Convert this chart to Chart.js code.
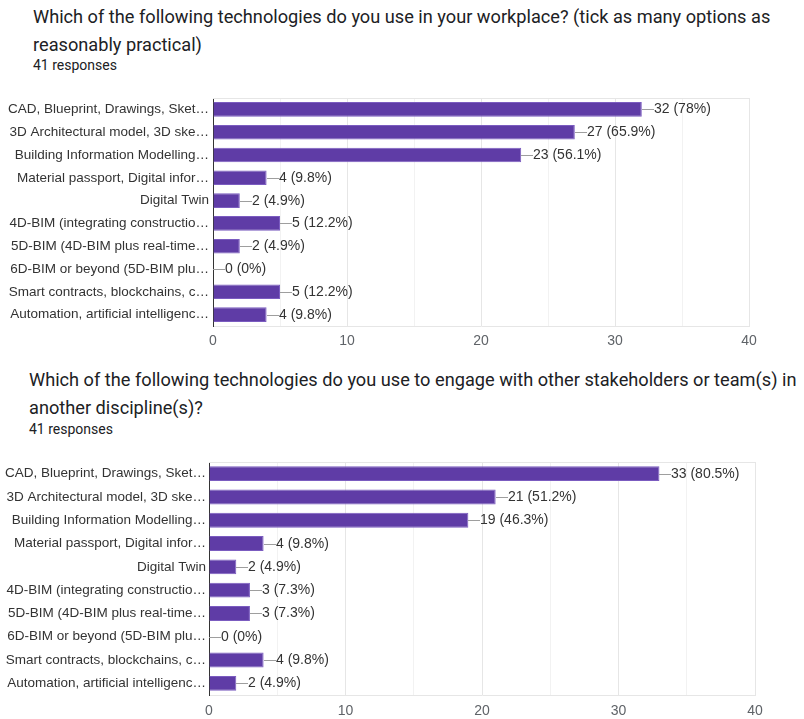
<!DOCTYPE html>
<html>
<head>
<meta charset="utf-8">
<script src="https://cdn.jsdelivr.net/npm/chart.js@4/dist/chart.umd.min.js"></script>
<style>
  body { margin: 0; background: #fff; width: 804px; height: 719px; overflow: hidden; position: relative; }
  .title { position: absolute; font-family: Roboto, sans-serif; font-size: 18.2px; color: #202124; line-height: 28px; white-space: nowrap; }
  .resp { position: absolute; font-family: Roboto, sans-serif; font-size: 14px; color: #202124; }
  canvas { position: absolute; left: 0; }
</style>
</head>
<body>
<div class="title" style="left:33px; top:3px;">Which of the following technologies do you use in your workplace? (tick as many options as<br>reasonably practical)</div>
<div class="resp" style="left:33px; top:57px;">41 responses</div>
<canvas id="chart1" width="804" height="270" style="top:90px;"></canvas>

<div class="title" style="left:29px; top:366px;">Which of the following technologies do you use to engage with other stakeholders or team(s) in<br>another discipline(s)?</div>
<div class="resp" style="left:29px; top:421px;">41 responses</div>
<canvas id="chart2" width="804" height="264" style="top:455px;"></canvas>

<script>
/* --------------- Data --------------------- */
const categories = [
  'CAD, Blueprint, Drawings, Sket…',
  '3D Architectural model, 3D ske…',
  'Building Information Modelling…',
  'Material passport, Digital infor…',
  'Digital Twin',
  '4D-BIM (integrating constructio…',
  '5D-BIM (4D-BIM plus real-time…',
  '6D-BIM or beyond (5D-BIM plu…',
  'Smart contracts, blockchains, c…',
  'Automation, artificial intelligenc…',
];
const workplaceCounts = [32, 27, 23, 4, 2, 5, 2, 0, 5, 4];
const engageCounts = [33, 21, 19, 4, 2, 3, 3, 0, 4, 2];
const totalResponses = 41;
const xTicks = [0, 10, 20, 30, 40];

const barColor = '#5f3ca6';

/* --------------- Value labels with connector line --------------------- */
const valueLabels = {
  id: 'valueLabels',
  beforeDatasetsDraw(chart) {
    const { ctx, chartArea: a } = chart;
    ctx.save();
    ctx.strokeStyle = '#e6e6e6';
    ctx.lineWidth = 1;
    ctx.beginPath();
    ctx.moveTo(a.left, a.top + 0.5);
    ctx.lineTo(a.right + 0.5, a.top + 0.5);
    ctx.stroke();
    ctx.restore();
  },
  afterDatasetsDraw(chart) {
    const { ctx } = chart;
    const data = chart.data.datasets[0].data;
    ctx.save();
    chart.getDatasetMeta(0).data.forEach((bar, i) => {
      const x = Math.round(bar.x), y = Math.round(bar.y) + 0.5;
      ctx.strokeStyle = '#9e9e9e';
      ctx.lineWidth = 1;
      ctx.beginPath();
      ctx.moveTo(x, y);
      ctx.lineTo(x + 12, y);
      ctx.stroke();
      const pct = Math.round(data[i] / totalResponses * 1000) / 10;
      ctx.fillStyle = '#333333';
      ctx.font = '14px "Liberation Sans", Arial, sans-serif';
      ctx.textAlign = 'left';
      ctx.textBaseline = 'middle';
      ctx.fillText(data[i] + ' (' + pct + '%)', x + 12, y);
    });
    ctx.restore();
  },
};

function makeChart(id, values, opts) {
  return new Chart(document.getElementById(id), {
    type: 'bar',
    plugins: [valueLabels],
    data: {
      labels: categories,
      datasets: [{
        data: values,
        backgroundColor: barColor,
        borderColor: '#7b5cc0',
        borderWidth: 1,
        categoryPercentage: 1,
        barPercentage: 0.64,
      }],
    },
    options: {
      indexAxis: 'y',
      responsive: false,
      animation: false,
      layout: { padding: { top: opts.top, right: opts.right, left: 0, bottom: 0 } },
      plugins: { legend: { display: false }, tooltip: { enabled: false } },
      scales: {
        x: {
          min: 0,
          max: 40,
          afterFit: (s) => { s.height = opts.xHeight; },
          afterBuildTicks: (s) => { s.ticks = [0, 5, 10, 15, 20, 25, 30, 35, 40].map(v => ({ value: v })); },
          ticks: {
            padding: opts.tickPad,
            color: '#5f6368',
            font: { family: '"Liberation Sans", Arial, sans-serif', size: 14 },
            callback: (v) => (xTicks.includes(v) ? v : ''),
          },
          grid: {
            drawTicks: false,
            color: (c) => (c.tick && c.tick.value % 10 === 0 ? '#e6e6e6' : '#f2f2f2'),
          },
          border: { color: '#e6e6e6' },
        },
        y: {
          afterFit: (s) => { s.width = opts.left; s.paddingTop = 0; s.paddingBottom = 0; },
          ticks: {
            autoSkip: false,
            padding: opts.labelPad,
            color: '#333333',
            font: { family: '"Liberation Sans", Arial, sans-serif', size: 13.5 },
          },
          grid: { display: false, drawTicks: false },
          border: { color: '#333333', width: 1 },
        },
      },
    },
  });
}

makeChart('chart1', workplaceCounts, { top: 8, right: 55, left: 213, xHeight: 34, tickPad: 7, labelPad: 4 });
makeChart('chart2', engageCounts, { top: 7, right: 49, left: 209, xHeight: 24, tickPad: 8, labelPad: 3 });
</script>
</body>
</html>
